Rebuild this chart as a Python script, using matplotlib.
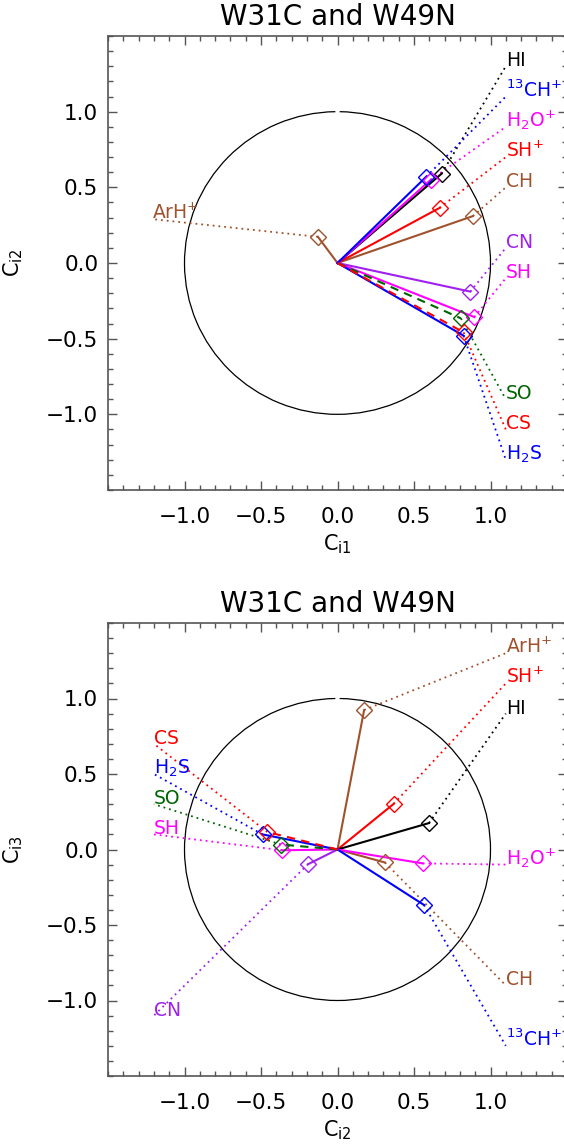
import matplotlib

matplotlib.use("Agg")
import matplotlib.pyplot as plt
from matplotlib.patches import Arc
from matplotlib.ticker import MultipleLocator, FixedLocator, FuncFormatter

# species shown in both panels
species = ["HI", "13CH+", "H2O+", "SH+", "CH", "ArH+", "CN", "SH", "SO", "CS", "H2S"]

# panel 1: C_i1 vs C_i2
top_x = [0.68, 0.58, 0.61, 0.667, 0.885, -0.128, 0.868, 0.894, 0.807, 0.824, 0.824]
top_y = [0.59, 0.57, 0.55, 0.364, 0.31, 0.173, -0.189, -0.357, -0.366, -0.458, -0.48]
top_lab_x = [1.10, 1.10, 1.10, 1.10, 1.10, -1.21, 1.10, 1.10, 1.10, 1.10, 1.10]
top_lab_y = [1.30, 1.10, 0.90, 0.70, 0.50, 0.29, 0.10, -0.10, -0.90, -1.10, -1.30]

# panel 2: C_i2 vs C_i3
bot_x = [0.598, 0.565, 0.557, 0.367, 0.31, 0.174, -0.192, -0.363, -0.37, -0.459, -0.49]
bot_y = [0.175, -0.367, -0.092, 0.302, -0.086, 0.924, -0.097, -0.005, 0.033, 0.116, 0.10]
bot_lab_x = [1.10, 1.10, 1.10, 1.10, 1.10, 1.10, -1.20, -1.20, -1.20, -1.20, -1.20]
bot_lab_y = [0.90, -1.30, -0.10, 1.10, -0.90, 1.30, -1.10, 0.10, 0.30, 0.70, 0.50]

labels = {
    "HI": "HI",
    "13CH+": r"$^{13}$CH$^{+}$",
    "H2O+": r"H$_2$O$^{+}$",
    "SH+": r"SH$^{+}$",
    "CH": "CH",
    "ArH+": r"ArH$^{+}$",
    "CN": "CN",
    "SH": "SH",
    "SO": "SO",
    "CS": "CS",
    "H2S": r"H$_2$S",
}

colors = {
    "HI": "black",
    "13CH+": "#0000ff",
    "H2O+": "#ff00ff",
    "SH+": "#ff0000",
    "CH": "#a0522d",
    "ArH+": "#a0522d",
    "CN": "#a020f0",
    "SH": "#ff00ff",
    "SO": "#006400",
    "CS": "#ff0000",
    "H2S": "#0000ff",
}
dashed = {"SO", "CS"}

# draw order roughly as in the original (later ones on top)
draw_order = ["CH", "ArH+", "SH+", "HI", "H2O+", "13CH+", "CN", "SH", "H2S", "SO", "CS"]

W, H = 564, 1146
fig = plt.figure(figsize=(W / 100, H / 100), dpi=100)

spine_color = "#555555"


def tick_fmt(v, pos):
    s = f"{v:.1f}"
    return s.replace("-", "\u2212")


def setup_axis(ax, xlabel, ylabel):
    ax.set_xlim(-1.5, 1.5)
    ax.set_ylim(-1.5, 1.5)
    major = [-1.0, -0.5, 0.0, 0.5, 1.0]
    ax.xaxis.set_major_locator(FixedLocator(major))
    ax.yaxis.set_major_locator(FixedLocator(major))
    ax.xaxis.set_minor_locator(MultipleLocator(0.1))
    ax.yaxis.set_minor_locator(MultipleLocator(0.1))
    ax.xaxis.set_major_formatter(FuncFormatter(tick_fmt))
    ax.yaxis.set_major_formatter(FuncFormatter(tick_fmt))
    ax.tick_params(which="both", direction="in", top=True, right=True,
                   color=spine_color, width=1.0, labelsize=15.5)
    ax.tick_params(which="major", length=6.5, pad=7)
    ax.tick_params(which="minor", length=3.6)
    ax.tick_params(axis="x", which="major", pad=12)
    for sp in ax.spines.values():
        sp.set_color(spine_color)
        sp.set_linewidth(1.2)
    ax.set_xlabel(xlabel, fontsize=15, labelpad=4)
    ax.set_ylabel(ylabel, fontsize=15)
    ax.yaxis.set_label_coords(-0.18, 0.5)
    ax.set_title("W31C and W49N", fontsize=20, pad=8)
    # unit circle, with the little gap at the top like the original
    ax.add_patch(Arc((0, 0), 2, 2, theta1=90.8, theta2=449.2,
                     color="black", lw=0.9, zorder=1))


def draw_panel(ax, xs, ys, lab_x, lab_y):
    idx = {name: i for i, name in enumerate(species)}
    for name in draw_order:
        i = idx[name]
        c = colors[name]
        ls = (0, (4, 3)) if name in dashed else "-"
        ax.plot([0, xs[i]], [0, ys[i]], color=c, lw=1.5, ls=ls, zorder=3)
        ax.plot([xs[i]], [ys[i]], marker="D", ms=8.5, mfc="none", mec=c,
                mew=1.0, ls="none", zorder=4)
        ax.plot([xs[i], lab_x[i]], [ys[i], lab_y[i]], color=c, lw=1.3,
                ls=(0, (1, 2.2)), zorder=2)
        ax.text(lab_x[i], lab_y[i], labels[name], color=c, fontsize=13.5,
                ha="left", va="baseline", zorder=5)


ax1 = fig.add_axes([108 / W, 1 - 490 / H, 459 / W, 454 / H])
setup_axis(ax1, r"C$_{\rm i1}$", r"C$_{\rm i2}$")
draw_panel(ax1, top_x, top_y, top_lab_x, top_lab_y)

ax2 = fig.add_axes([108 / W, 1 - 1076 / H, 459 / W, 453 / H])
setup_axis(ax2, r"C$_{\rm i2}$", r"C$_{\rm i3}$")
draw_panel(ax2, bot_x, bot_y, bot_lab_x, bot_lab_y)

fig.savefig("out.png", dpi=100)
